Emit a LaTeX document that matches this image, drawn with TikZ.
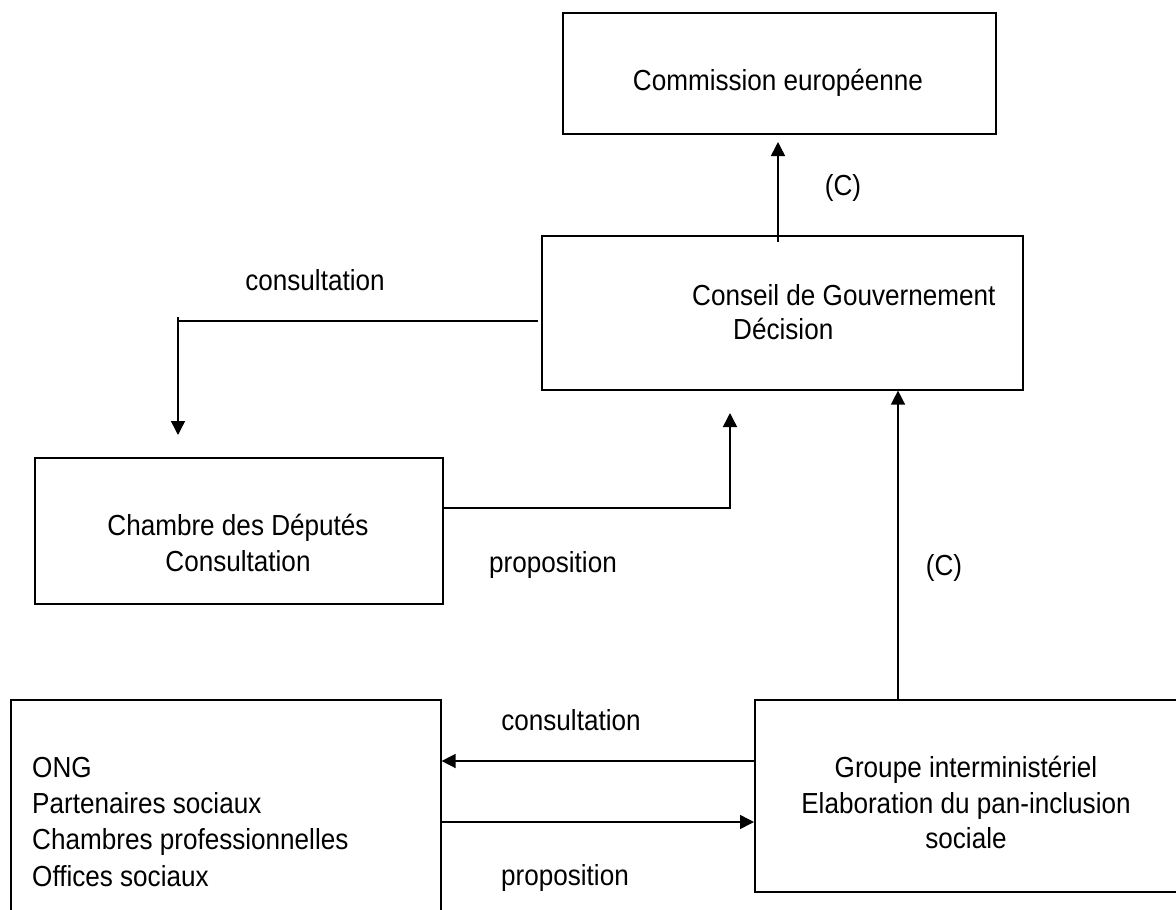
\documentclass[tikz,border=0pt]{standalone}
\usepackage{fontspec}
\setmainfont[FakeStretch=0.9]{Liberation Sans}
\usetikzlibrary{arrows.meta}
\begin{document}
\begin{tikzpicture}[x=1pt,y=-1pt,
  boxstyle/.style={draw=black,line width=1.6pt,inner sep=0pt,anchor=north west},
  txt/.style={inner sep=0pt,font=\fontsize{29}{35}\selectfont},
  conn/.style={line width=1.5pt},
  arr/.style={line width=1.5pt,-{Triangle[length=14pt,width=14pt]}}]
\fill[white] (0,0) rectangle (1176,910);
\useasboundingbox (0,0) rectangle (1176,910);
% boxes
\node[boxstyle,minimum width=433pt,minimum height=121pt] (comm) at (562,12) {};
\node[boxstyle,minimum width=481pt,minimum height=154pt] (cons) at (541,235) {};
\node[boxstyle,minimum width=408pt,minimum height=146pt] (chamb) at (34,457) {};
\node[boxstyle,minimum width=430pt,minimum height=220pt] (ong) at (10,699) {};
\node[boxstyle,minimum width=430pt,minimum height=192pt] (grp) at (754,699) {};
% box texts
\node[txt,anchor=base] (commt) at (778,90) {Commission européenne};
\node[txt,anchor=base west] (const1) at (692,305) {Conseil de Gouvernement};
\node[txt,anchor=base west] (const2) at (733,339) {Décision};
\node[txt,anchor=base] (chambt1) at (238,535) {Chambre des Députés};
\node[txt,anchor=base] (chambt2) at (238,571) {Consultation};
\node[txt,anchor=base west] (ongt1) at (32,777) {ONG};
\node[txt,anchor=base west] (ongt2) at (32,813) {Partenaires sociaux};
\node[txt,anchor=base west] (ongt3) at (32,849) {Chambres professionnelles};
\node[txt,anchor=base west] (ongt4) at (32,886) {Offices sociaux};
\node[txt,anchor=base] (grpt1) at (966,777) {Groupe interministériel};
\node[txt,anchor=base] (grpt2) at (966,813) {Elaboration du pan-inclusion};
\node[txt,anchor=base] (grpt3) at (966,848) {sociale};
% labels
\node[txt,anchor=base] (lc1) at (843,195) {(C)};
\node[txt,anchor=base] (lcons1) at (315,290) {consultation};
\node[txt,anchor=base] (lprop1) at (553,572) {proposition};
\node[txt,anchor=base] (lc2) at (944,575) {(C)};
\node[txt,anchor=base] (lcons2) at (571,730) {consultation};
\node[txt,anchor=base] (lprop2) at (565,885) {proposition};
% connector coordinates
\coordinate (a1) at (778,242);
\coordinate (a2) at (778,142);
\coordinate (b1) at (538,321);
\coordinate (b2) at (178,321);
\coordinate (b0) at (178,317);
\coordinate (b3) at (178,435);
\coordinate (p1) at (442,508);
\coordinate (p2) at (730,508);
\coordinate (p3) at (730,413);
\coordinate (gx) at (898,0);
\coordinate (y1) at (0,761);
\coordinate (y2) at (0,822);
% connectors
\draw[arr] (a1) -- (a2);
\draw[conn] (b1) -- (b2);
\draw[arr] (b0) -- (b3);
\draw[arr] (p1) -- (p2) -- (p3);
\draw[arr] (gx |- grp.north) -- (gx |- cons.south);
\draw[arr] (grp.west |- y1) -- (ong.east |- y1);
\draw[arr] (ong.east |- y2) -- (grp.west |- y2);
\end{tikzpicture}
\end{document}
